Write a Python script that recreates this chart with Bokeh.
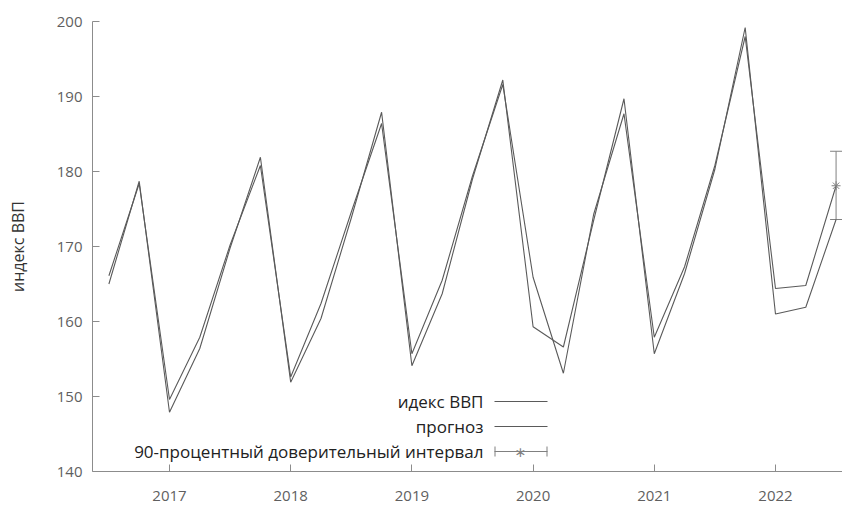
from bokeh.plotting import figure
from bokeh.models import (Range1d, FixedTicker, ColumnDataSource, Whisker, TeeHead,
                          Label, BoxAnnotation)
from bokeh.embed import file_html
from bokeh.resources import INLINE

# ---- data ----
periods = ["2016Q3", "2016Q4",
           "2017Q1", "2017Q2", "2017Q3", "2017Q4",
           "2018Q1", "2018Q2", "2018Q3", "2018Q4",
           "2019Q1", "2019Q2", "2019Q3", "2019Q4",
           "2020Q1", "2020Q2", "2020Q3", "2020Q4",
           "2021Q1", "2021Q2", "2021Q3", "2021Q4",
           "2022Q1", "2022Q2", "2022Q3"]
gdp_index = [165.0, 178.7,
             147.9, 156.4, 169.8, 181.9,
             151.9, 160.4, 173.8, 187.9,
             154.1, 163.7, 179.0, 192.2,
             159.3, 156.6, 173.5, 189.7,
             155.7, 166.4, 180.3, 199.2,
             161.0, 161.9, 173.6]
forecast = [166.1, 178.4,
            149.6, 157.9, 170.2, 180.8,
            152.6, 162.4, 174.6, 186.4,
            155.7, 165.5, 179.4, 191.6,
            165.9, 153.1, 174.3, 187.7,
            157.9, 167.3, 180.8, 198.0,
            164.4, 164.8, 178.1]
ci_period = ["2022Q3"]
ci_center = [178.1]
ci_low = [173.6]
ci_high = [182.7]
year_ticks = [2017, 2018, 2019, 2020, 2021, 2022]
y_ticks = [140, 150, 160, 170, 180, 190, 200]

def to_x(p):
    return int(p[:4]) + (int(p[5]) - 1) / 4.0

xs = [to_x(p) for p in periods]
ci_x = [to_x(p) for p in ci_period]

FONT = "Open Sans"
LINE_COL = "#5a5a5a"
AX_COL = "#8c8c8c"
TXT_COL = "#5f5f5f"
CI_COL = "#808080"

p = figure(width=842, height=506, output_backend="svg", toolbar_location=None,
           x_range=Range1d(2016.3647, 2022.553), y_range=Range1d(140, 200),
           min_border_left=92, min_border_right=0, min_border_top=21, min_border_bottom=35)
p.outline_line_color = None
p.xgrid.visible = False
p.ygrid.visible = False
p.background_fill_color = "white"
p.border_fill_color = "white"

for ax in (p.xaxis[0], p.yaxis[0]):
    ax.axis_line_color = AX_COL
    ax.major_tick_line_color = AX_COL
    ax.minor_tick_line_color = None
    ax.major_tick_in = 7
    ax.major_tick_out = 0
    ax.major_label_text_font = FONT
    ax.major_label_text_font_size = "15px"
    ax.major_label_text_color = TXT_COL

p.xaxis.ticker = FixedTicker(ticks=year_ticks)
p.yaxis.ticker = FixedTicker(ticks=y_ticks)
p.xaxis.major_label_standoff = 19
p.yaxis.major_label_standoff = 10
p.yaxis.axis_label = "индекс ВВП"
p.yaxis.axis_label_text_font = FONT
p.yaxis.axis_label_text_font_size = "16px"
p.yaxis.axis_label_text_font_style = "normal"
p.yaxis.axis_label_text_color = "#333333"
p.yaxis.axis_label_standoff = 25

src = ColumnDataSource(dict(x=xs, gdp=gdp_index, fc=forecast))
p.line("x", "gdp", source=src, line_color=LINE_COL, line_width=1.1)
p.line("x", "fc", source=src, line_color=LINE_COL, line_width=1.1)

ci_src = ColumnDataSource(dict(x=ci_x, c=ci_center, lo=ci_low, hi=ci_high))
w = Whisker(base="x", lower="lo", upper="hi", source=ci_src, line_color=CI_COL, line_width=1,
            lower_head=TeeHead(size=12, line_color=CI_COL, line_width=1),
            upper_head=TeeHead(size=12, line_color=CI_COL, line_width=1))
p.add_layout(w)
p.scatter("x", "c", source=ci_src, marker="asterisk", size=9, line_color=CI_COL, line_width=1)

# ---- legend (gnuplot style: text right-aligned, sample on the right) ----
# screen units here are relative to the plot frame (origin bottom-left)
rows = [(70, "идекс ВВП"), (45, "прогноз"), (20, "90-процентный доверительный интервал")]
TX, SX0, SX1, STAR = 391, 402, 455, 428
for ry, txt in rows:
    p.add_layout(Label(x=TX, y=ry, x_units="screen", y_units="screen", text=txt,
                       text_align="right", text_baseline="middle", text_font=FONT,
                       text_font_size="17px", text_color="#222222"))

def hbox(l, r, t, b, col):
    return BoxAnnotation(left=l, right=r, top=t, bottom=b,
                         left_units="screen", right_units="screen", top_units="screen",
                         bottom_units="screen", fill_color=col, fill_alpha=1, line_color=None)

for ry, _ in rows[:2]:
    p.add_layout(hbox(SX0, SX1, ry + 0.6, ry - 0.6, LINE_COL))
ry = rows[2][0]
p.add_layout(hbox(SX0, SX1, ry + 0.5, ry - 0.5, CI_COL))
for cx in (SX0, SX1 - 1):
    p.add_layout(hbox(cx, cx + 1, ry + 5, ry - 5, CI_COL))
p.add_layout(Label(x=STAR, y=ry, x_units="screen", y_units="screen", text="∗",
                   text_align="center", text_baseline="middle", text_font="DejaVu Sans",
                   text_font_size="14px", text_color=CI_COL))

open("out.html", "w").write(file_html(p, INLINE))
